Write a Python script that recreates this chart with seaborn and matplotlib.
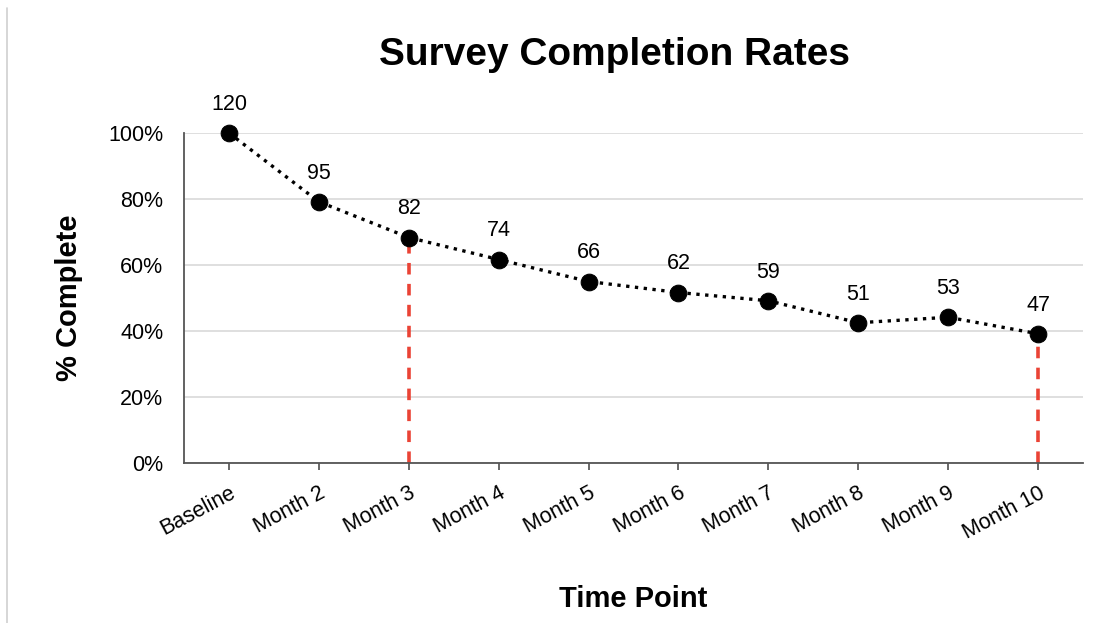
import matplotlib
matplotlib.use("Agg")
import matplotlib.pyplot as plt
from matplotlib.lines import Line2D
import seaborn as sns
import pandas as pd

# Survey responses at each time point
time_points = ["Baseline", "Month 2", "Month 3", "Month 4", "Month 5",
               "Month 6", "Month 7", "Month 8", "Month 9", "Month 10"]
responses = [120, 95, 82, 74, 66, 62, 59, 51, 53, 47]
# Time points highlighted with a reference drop line
highlighted = ["Month 3", "Month 10"]
y_ticks = [0, 20, 40, 60, 80, 100]
y_tick_labels = ["0%", "20%", "40%", "60%", "80%", "100%"]

pct_complete = [r / responses[0] * 100 for r in responses]
df = pd.DataFrame({"time": time_points, "pct": pct_complete, "n": responses})

sns.set_theme(style="white")
plt.rcParams["font.family"] = ["Liberation Sans", "DejaVu Sans"]
plt.rcParams["text.color"] = "black"
plt.rcParams["axes.labelcolor"] = "black"

fig = plt.figure(figsize=(11.1, 6.23), dpi=100)
ax = fig.add_axes([0.1658, 0.2568, 0.8099, 0.5297])

# Drop lines from the axis to the highlighted points
for t in highlighted:
    i = time_points.index(t)
    ax.plot([i, i], [0, pct_complete[i]], color="#ea4335", lw=2.6,
            linestyle=(0, (3.2, 2.6)), zorder=2)

sns.lineplot(data=df, x="time", y="pct", ax=ax, color="black",
             linestyle=":", linewidth=2.4, marker="o", markersize=12,
             markeredgecolor="black", zorder=3, sort=False)
for ln in ax.lines:
    ln.set_clip_on(False)

for i, (p, n) in enumerate(zip(pct_complete, responses)):
    ax.annotate(str(n), (i, p), xytext=(0, 13), textcoords="offset points",
                ha="center", va="bottom", fontsize=15.5, color="black")

ax.set_xlim(-0.5, len(time_points) - 0.5)
ax.set_ylim(0, 100)
ax.set_yticks(y_ticks)
ax.set_yticklabels(y_tick_labels, fontsize=15.5, color="black")
ax.set_xticks(range(len(time_points)))
ax.set_xticklabels(time_points, rotation=28, ha="right",
                   rotation_mode="anchor", fontsize=15.5, color="black")
ax.tick_params(axis="x", bottom=True, length=5, color="#555555", pad=9)
ax.tick_params(axis="y", left=False, pad=9)

ax.yaxis.grid(True, color="#d9d9d9", linewidth=1.2)
ax.set_axisbelow(True)
for side in ["top", "right"]:
    ax.spines[side].set_visible(False)
for side in ["left", "bottom"]:
    ax.spines[side].set_color("#555555")
    ax.spines[side].set_linewidth(1.3)

ax.set_xlabel("Time Point", fontsize=21, fontweight="bold", labelpad=30)
ax.set_ylabel("% Complete", fontsize=21, fontweight="bold")
ax.yaxis.set_label_coords(-0.112, 0.5)
fig.text(0.554, 0.912, "Survey Completion Rates", ha="center", va="center",
         fontsize=28, fontweight="bold", color="black")

# Thin frame line along the left edge
fig.add_artist(Line2D([0.0065, 0.0065], [0.0, 0.987], transform=fig.transFigure,
                      color="#d0d0d0", linewidth=1.2))

fig.savefig("out.png", dpi=100, facecolor="white")
